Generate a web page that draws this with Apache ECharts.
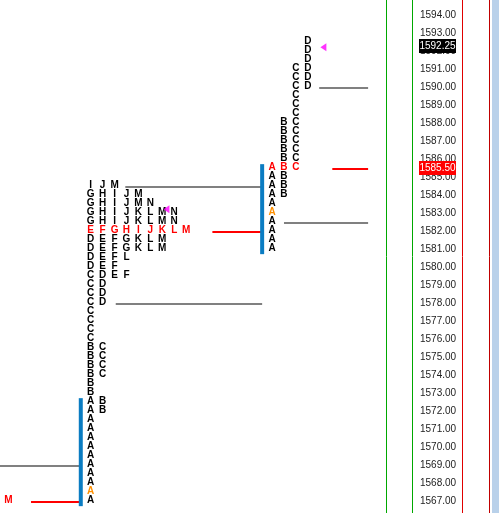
<!DOCTYPE html>
<html>
<head>
<meta charset="utf-8">
<script src="https://cdn.jsdelivr.net/npm/echarts@6/dist/echarts.min.js"></script>
<style>
html, body { margin: 0; padding: 0; background: #fff; }
#chart { width: 499px; height: 513px; }
</style>
</head>
<body>
<div id="chart"></div>
<script>
// price scale labels
var tickPrices = [1567, 1568, 1569, 1570, 1571, 1572, 1573, 1574, 1575, 1576, 1577, 1578, 1579, 1580,
    1581, 1582, 1583, 1584, 1585, 1586, 1587, 1588, 1589, 1590, 1591, 1592, 1593, 1594];

// session 1 (left profile): period letters with their low / high
var s1Letters = ['A', 'B', 'C', 'D', 'E', 'F', 'G', 'H', 'I', 'J', 'K', 'L', 'M', 'N'];
var s1Low  = [1567.0, 1572.0, 1574.0, 1578.0, 1579.5, 1579.5, 1581.0, 1582.0, 1582.0, 1582.0, 1581.0, 1580.5, 1581.0, 1582.5];
var s1High = [1572.5, 1575.5, 1579.5, 1581.5, 1582.0, 1582.0, 1584.0, 1584.0, 1584.5, 1584.5, 1583.0, 1583.0, 1584.5, 1583.5];
var s1Open = 1567.5;
var s1Poc = 1582.0;
var s1Last = 1583.25;

// session 2 (right profile)
var s2Letters = ['A', 'B', 'C', 'D'];
var s2Low  = [1581.0, 1584.0, 1585.5, 1590.0];
var s2High = [1585.5, 1588.0, 1591.0, 1592.5];
var s2Open = 1583.0;
var s2Poc = 1585.5;
var s2Last = 1592.25;

// previous session, only its POC letter is on screen
var prevPocLetter = 'M';
var prevPoc = 1567.0;

// reference lines (value area edges and POC), in column units
var levelPrice = [1569.0, 1567.0, 1584.5, 1578.0, 1582.0, 1590.0, 1582.5, 1585.5];
var levelKind  = ['va', 'poc', 'va', 'va', 'poc', 'va', 'va', 'poc'];
var levelFrom  = [-7.6, -5.0, 2.9, 2.1, 10.2, 19.15, 16.2, 20.25];
var levelTo    = [-0.83, -0.83, 14.37, 14.37, 14.37, 23.25, 23.25, 23.25];

// price boxes on the scale
var boxPrice = [s2Last, s2Poc];
var boxColor = ['#000000', '#ff0000'];

var xMin = -7.6, xMax = 24.75;
var s1Start = 0, s2Start = 15.2, prevCol = -6.9;
var s1MarkCol = 6.35, s2MarkCol = 19.5;

var labelFont = '"Liberation Sans", Arial, sans-serif';

function letterColor(p, letter, open, poc) {
    if (p === poc) return '#ff0000';
    if (letter === 'A' && p === open) return '#ff9000';
    return '#000000';
}

// build the TPO cells
var cells = [];
function addPacked(letters, low, high, start, open, poc) {
    var top = Math.max.apply(null, high), bot = Math.min.apply(null, low);
    for (var p = top; p >= bot; p -= 0.5) {
        var col = 0;
        for (var i = 0; i < letters.length; i++) {
            if (low[i] <= p && p <= high[i]) {
                cells.push([start + col, p, letters[i], letterColor(p, letters[i], open, poc)]);
                col++;
            }
        }
    }
}
function addByPeriod(letters, low, high, start, open, poc) {
    for (var i = 0; i < letters.length; i++) {
        for (var p = high[i]; p >= low[i]; p -= 0.5) {
            cells.push([start + i, p, letters[i], letterColor(p, letters[i], open, poc)]);
        }
    }
}
addPacked(s1Letters, s1Low, s1High, s1Start, s1Open, s1Poc);
addByPeriod(s2Letters, s2Low, s2High, s2Start, s2Open, s2Poc);
cells.push([prevCol, prevPoc, prevPocLetter, '#ff0000']);

// opening period range bars
var rangeBars = [
    [s1Start - 0.83, s1Low[0] - 0.25, s1High[0] + 0.25],
    [s2Start - 0.83, s2Low[0] - 0.25, s2High[0] + 0.25]
];

var levels = [];
for (var i = 0; i < levelPrice.length; i++) {
    levels.push([levelFrom[i], levelTo[i], levelPrice[i], levelKind[i]]);
}

var myChart = echarts.init(document.getElementById('chart'));
var options = {
    animation: false,
    grid: { left: 0, top: 0, bottom: 0, width: 386 },
    xAxis: { type: 'value', min: xMin, max: xMax, show: false },
    yAxis: {
        type: 'value',
        position: 'right',
        min: 1566.37,
        max: 1594.87,
        axisLine: { show: true, onZero: false, lineStyle: { color: '#00a800', width: 1 } },
        axisTick: { show: false },
        splitLine: { show: false },
        axisLabel: {
            customValues: tickPrices,
            showMinLabel: true,
            showMaxLabel: true,
            margin: 34,
            align: 'left',
            color: '#222',
            fontSize: 10,
            fontFamily: labelFont,
            formatter: function (v) { return v.toFixed(2); }
        }
    },
    graphic: [
        { type: 'line', shape: { x1: 412.5, y1: 0, x2: 412.5, y2: 513 }, style: { stroke: '#00a800', lineWidth: 1 } },
        { type: 'line', shape: { x1: 462.5, y1: 0, x2: 462.5, y2: 513 }, style: { stroke: '#e00000', lineWidth: 1 } },
        { type: 'line', shape: { x1: 489.5, y1: 0, x2: 489.5, y2: 513 }, style: { stroke: '#c00000', lineWidth: 1 } },
        { type: 'rect', shape: { x: 492, y: 0, width: 7, height: 513 }, style: { fill: '#b9d1ea' } }
    ],
    series: [
        {
            // value area / POC lines
            type: 'custom',
            data: levels,
            clip: false,
            renderItem: function (params, api) {
                var d = levels[params.dataIndex];
                var a = api.coord([d[0], d[2]]);
                var b = api.coord([d[1], d[2]]);
                return {
                    type: 'line',
                    shape: { x1: a[0], y1: Math.round(a[1]), x2: b[0], y2: Math.round(b[1]) },
                    style: { stroke: d[3] === 'poc' ? '#ff0000' : '#808080', lineWidth: 2 }
                };
            }
        },
        {
            // opening range bars
            type: 'custom',
            data: rangeBars,
            renderItem: function (params, api) {
                var d = rangeBars[params.dataIndex];
                var a = api.coord([d[0], d[2]]);
                var b = api.coord([d[0], d[1]]);
                return {
                    type: 'rect',
                    shape: { x: a[0] - 2, y: a[1], width: 4, height: b[1] - a[1] },
                    style: { fill: '#0a7cc2' }
                };
            }
        },
        {
            // TPO letters
            type: 'custom',
            data: cells,
            clip: false,
            renderItem: function (params, api) {
                var d = cells[params.dataIndex];
                var c = api.coord([d[0], d[1]]);
                return {
                    type: 'text',
                    x: c[0],
                    y: c[1] - 1,
                    style: {
                        text: d[2],
                        fill: d[3],
                        font: 'bold 10px "Liberation Sans", Arial, sans-serif',
                        align: 'center',
                        verticalAlign: 'middle'
                    }
                };
            }
        },
        {
            // last price markers
            type: 'scatter',
            symbol: 'triangle',
            symbolRotate: 90,
            symbolSize: [8, 6],
            itemStyle: { color: '#ff00ff' },
            data: [[s1MarkCol, s1Last], [s2MarkCol, s2Last]],
            z: 5
        },
        {
            // price boxes on the scale
            type: 'custom',
            data: boxPrice,
            clip: false,
            z: 10,
            renderItem: function (params, api) {
                var p = boxPrice[params.dataIndex];
                var y = Math.round(api.coord([xMin, p])[1]);
                return {
                    type: 'group',
                    children: [
                        { type: 'rect', shape: { x: 419, y: y - 8, width: 37, height: 14 }, style: { fill: boxColor[params.dataIndex] } },
                        {
                            type: 'text', x: 437.5, y: y - 1,
                            style: {
                                text: p.toFixed(2), fill: '#fff',
                                font: '10px ' + labelFont,
                                align: 'center', verticalAlign: 'middle'
                            }
                        }
                    ]
                };
            }
        }
    ]
};
myChart.setOption(options, true);
</script>
</body>
</html>
